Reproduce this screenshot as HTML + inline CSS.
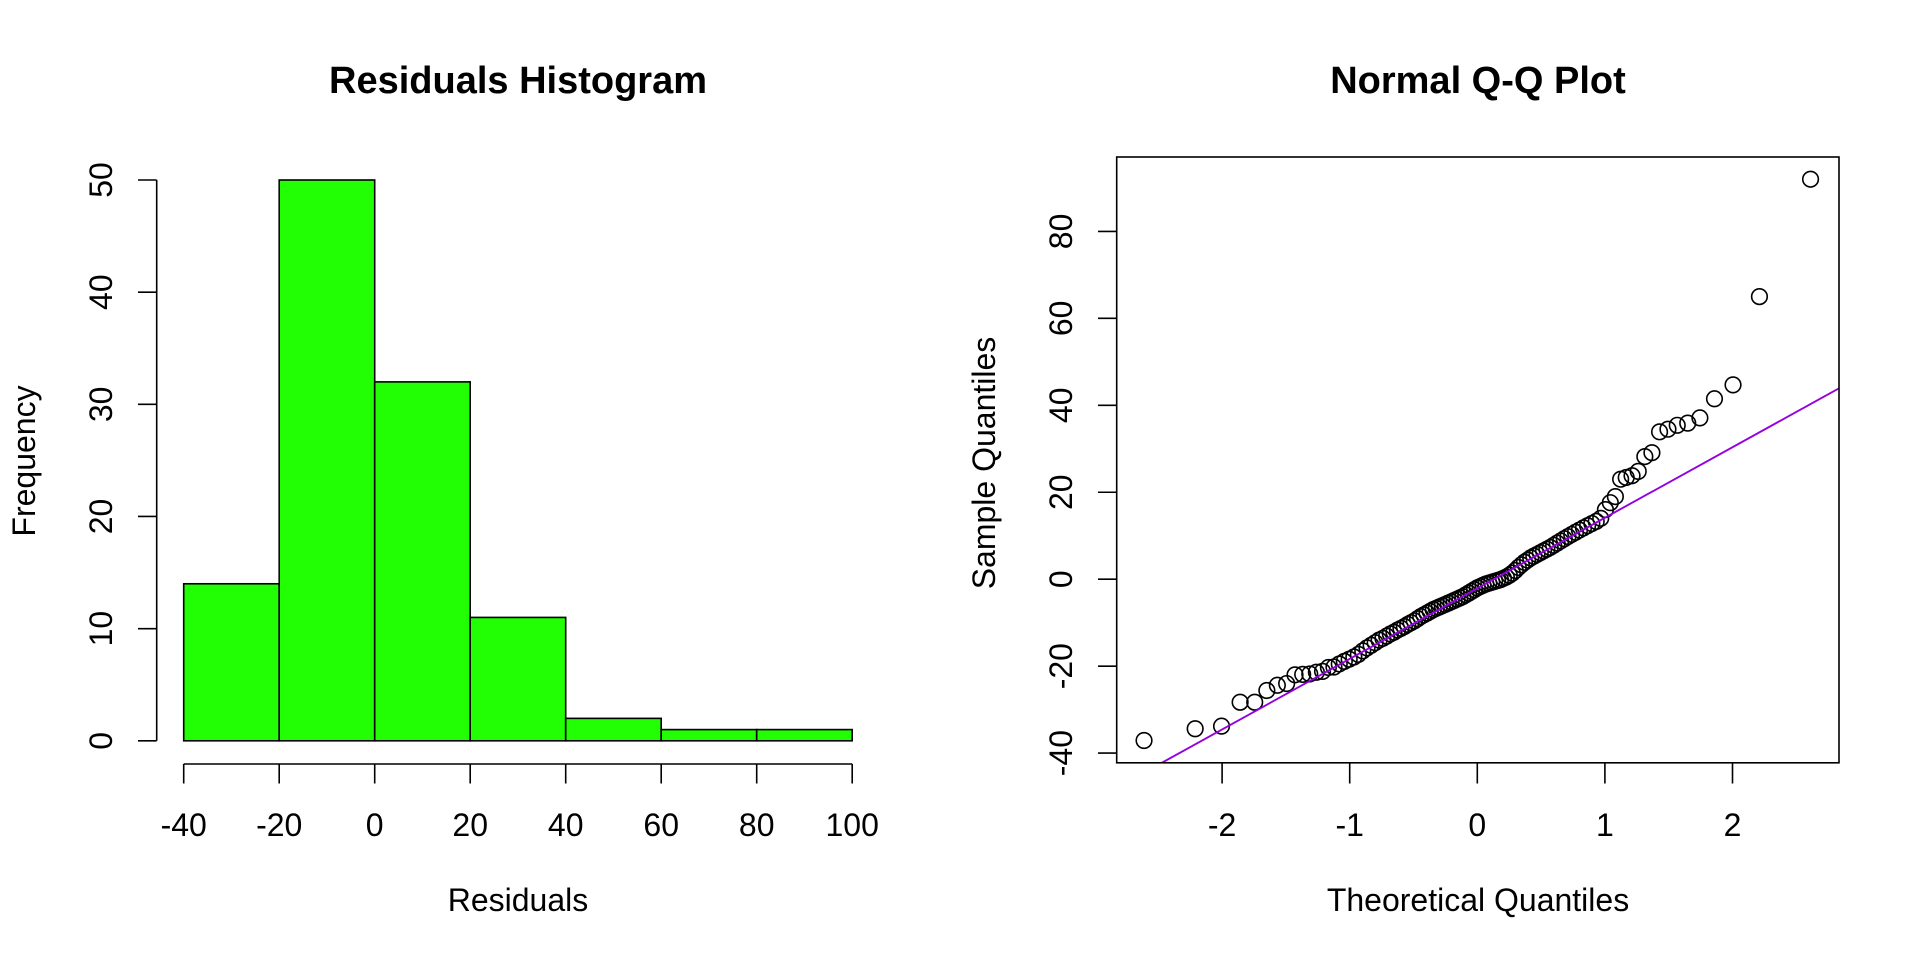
<!DOCTYPE html>
<html><head><meta charset="utf-8"><style>
html,body{margin:0;padding:0;background:#fff;}
svg{display:block;font-family:"Liberation Sans",Arial,sans-serif;}
</style></head><body>
<svg id="chart" width="1920" height="960" viewBox="0 0 1920 960" xmlns="http://www.w3.org/2000/svg">
<rect width="1920" height="960" fill="#fff"/>
<g id="hist"></g>
<g id="qq"></g>
</svg>
<script>
// Histogram data
const histBreaks = [-40, -20, 0, 20, 40, 60, 80, 100];
const histCounts = [14, 50, 32, 11, 2, 1, 1];
const histXTicks = [-40, -20, 0, 20, 40, 60, 80, 100];
const histYTicks = [0, 10, 20, 30, 40, 50];
// Q-Q data (sorted sample residuals)
const qqSample = [
 -37.1,-34.4,-33.8,-28.3,-28.3,-25.6,-24.4,-24.0,-21.9,-22.0,-21.8,-21.4,-21.2,-20.3,
 -20.2,-19.5,-18.9,-18.4,-17.9,-17.3,-16.5,-15.8,-15.2,-14.6,
 -14.0,-13.6,-13.1,-12.6,-12.2,-11.7,-11.3,-10.9,-10.4,-10.0,
 -9.6,-9.1,-8.6,-8.2,-7.8,-7.4,-7.0,-6.7,-6.4,-6.1,
 -5.8,-5.5,-5.2,-4.9,-4.6,-4.3,-4.0,-3.6,-3.2,-2.8,
 -2.4,-2.0,-1.7,-1.4,-1.1,-0.9,-0.7,-0.5,-0.3,-0.1,
 0.2,0.5,0.9,1.4,2.0,2.7,3.3,3.9,4.4,4.9,5.3,5.7,6.1,6.5,6.9,7.3,7.8,8.3,8.8,9.3,9.8,10.3,10.8,11.3,11.8,12.3,12.8,13.3,14.0,16.0,17.6,19.0,
 23.0,23.4,23.8,24.8,28.2,29.1,33.9,34.5,35.4,35.9,37.1,
 41.5,44.7,65.0,92.0
];
const qqLine = [-2.1, 16.23]; // intercept, slope
const qqXTicks = [-2, -1, 0, 1, 2];
const qqYTicks = [-40, -20, 0, 20, 40, 60, 80];

const NS = "http://www.w3.org/2000/svg";
function mk(parent, tag, attrs, text) {
  const el = document.createElementNS(NS, tag);
  for (const k in attrs) el.setAttribute(k, attrs[k]);
  if (text !== undefined) el.textContent = text;
  parent.appendChild(el);
  return el;
}
const TF = 32, TT = 38;

// ---------- Histogram ----------
const H = document.getElementById('hist');
const hx = v => 374.7 + (v / 20) * 95.5;
const hy = v => 740.8 - (v / 10) * 112.16;
let t = mk(H, 'text', {x: 518, y: 93, 'font-size': TT, 'font-weight': 'bold', 'text-anchor': 'middle'}, 'Residuals Histogram');


histCounts.forEach((c, i) => {
  const x0 = hx(histBreaks[i]), x1 = hx(histBreaks[i + 1]);
  const r = mk(H, 'rect', {x: x0, y: hy(c), width: x1 - x0, height: hy(0) - hy(c), fill: '#22ff05', stroke: '#000', 'stroke-width': 1.6});
  
  
});
let ax = mk(H, 'line', {x1: hx(-40), x2: hx(100), y1: 764, y2: 764, stroke: '#000', 'stroke-width': 1.6});


histXTicks.forEach(v => {
  mk(H, 'line', {x1: hx(v), x2: hx(v), y1: 764, y2: 783.5, stroke: '#000', 'stroke-width': 1.6});
  const tl = mk(H, 'text', {x: hx(v), y: 836, 'font-size': TF, 'text-anchor': 'middle'}, String(v));
  
  
});
let ay = mk(H, 'line', {x1: 156.7, x2: 156.7, y1: hy(0), y2: hy(50), stroke: '#000', 'stroke-width': 1.6});


histYTicks.forEach(v => {
  mk(H, 'line', {x1: 138, x2: 156.7, y1: hy(v), y2: hy(v), stroke: '#000', 'stroke-width': 1.6});
  const tl = mk(H, 'text', {x: 0, y: 0, 'font-size': TF, 'text-anchor': 'middle', transform: `translate(112,${hy(v)}) rotate(-90)`}, String(v));
  
  
});
t = mk(H, 'text', {x: 518, y: 911, 'font-size': TF, 'text-anchor': 'middle'}, 'Residuals');


t = mk(H, 'text', {x: 0, y: 0, 'font-size': TF, 'text-anchor': 'middle', transform: 'translate(35,461) rotate(-90)'}, 'Frequency');



// ---------- Q-Q plot ----------
const Q = document.getElementById('qq');
const qx = v => 1477.3 + v * 127.6;
const qy = v => 579.2 - v * 4.3475;
const BX0 = 1116.7, BX1 = 1839, BY0 = 157, BY1 = 762.8;
function qnorm(p) {
  const a=[-39.69683028665376,220.9460984245205,-275.9285104469687,138.3577518672690,-30.66479806614716,2.506628277459239];
  const b=[-54.47609879822406,161.5858368580409,-155.6989798598866,66.80131188771972,-13.28068155288572];
  const c=[-0.007784894002430293,-0.3223964580411365,-2.400758277161838,-2.549732539343734,4.374664141464968,2.938163982698783];
  const d=[0.007784695709041462,0.3224671290700398,2.445134137142996,3.754408661907416];
  const pl=0.02425;
  if (p < pl) { const q=Math.sqrt(-2*Math.log(p)); return (((((c[0]*q+c[1])*q+c[2])*q+c[3])*q+c[4])*q+c[5])/((((d[0]*q+d[1])*q+d[2])*q+d[3])*q+1); }
  if (p > 1-pl) { const q=Math.sqrt(-2*Math.log(1-p)); return -(((((c[0]*q+c[1])*q+c[2])*q+c[3])*q+c[4])*q+c[5])/((((d[0]*q+d[1])*q+d[2])*q+d[3])*q+1); }
  const q=p-0.5, r=q*q;
  return (((((a[0]*r+a[1])*r+a[2])*r+a[3])*r+a[4])*r+a[5])*q/(((((b[0]*r+b[1])*r+b[2])*r+b[3])*r+b[4])*r+1);
}
t = mk(Q, 'text', {x: 1478, y: 93, 'font-size': TT, 'font-weight': 'bold', 'text-anchor': 'middle'}, 'Normal Q-Q Plot');


const clip = mk(Q, 'clipPath', {id: 'qqclip'});
mk(clip, 'rect', {x: BX0, y: BY0, width: BX1 - BX0, height: BY1 - BY0});
const n = qqSample.length;
const sorted = qqSample.slice().sort((a, b) => a - b);
sorted.forEach((v, i) => {
  const z = qnorm((i + 1 - 0.5) / n);
  const c = mk(Q, 'circle', {cx: qx(z), cy: qy(v), r: 7.8, fill: 'none', stroke: '#000', 'stroke-width': 1.6});
  
  
});
const lz0 = -3, lz1 = 3;
let ln = mk(Q, 'line', {x1: qx(lz0), y1: qy(qqLine[0] + qqLine[1] * lz0), x2: qx(lz1), y2: qy(qqLine[0] + qqLine[1] * lz1), stroke: '#9400e0', 'stroke-width': 1.9, 'clip-path': 'url(#qqclip)'});


let box = mk(Q, 'rect', {x: BX0, y: BY0, width: BX1 - BX0, height: BY1 - BY0, fill: 'none', stroke: '#000', 'stroke-width': 1.6});


qqXTicks.forEach(v => {
  mk(Q, 'line', {x1: qx(v), x2: qx(v), y1: BY1, y2: 783.5, stroke: '#000', 'stroke-width': 1.6});
  const tl = mk(Q, 'text', {x: qx(v), y: 836, 'font-size': TF, 'text-anchor': 'middle'}, String(v));
  
  
});
qqYTicks.forEach(v => {
  mk(Q, 'line', {x1: 1098, x2: BX0, y1: qy(v), y2: qy(v), stroke: '#000', 'stroke-width': 1.6});
  const tl = mk(Q, 'text', {x: 0, y: 0, 'font-size': TF, 'text-anchor': 'middle', transform: `translate(1072,${qy(v)}) rotate(-90)`}, String(v));
  
  
});
t = mk(Q, 'text', {x: 1478, y: 911, 'font-size': TF, 'text-anchor': 'middle'}, 'Theoretical Quantiles');


t = mk(Q, 'text', {x: 0, y: 0, 'font-size': TF, 'text-anchor': 'middle', transform: 'translate(995,463) rotate(-90)'}, 'Sample Quantiles');


</script>
</body></html>
